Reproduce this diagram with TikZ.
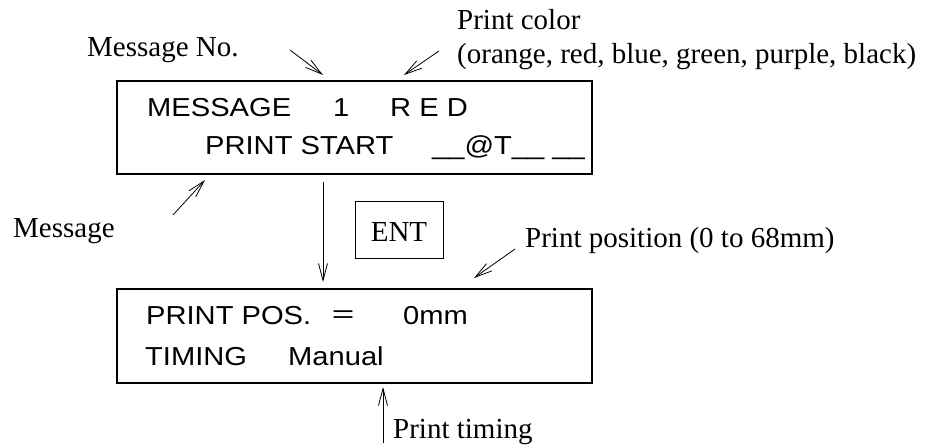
\documentclass[tikz,border=0pt]{standalone}
\usepackage{fontspec}
\setmainfont{Liberation Serif}
\newfontfamily\lcdfont[FakeStretch=1.12]{Liberation Sans}
\newfontfamily\cjkfont{Noto Sans CJK JP}
\usetikzlibrary{arrows.meta}
\tikzset{
  lbl/.style={anchor=base west, inner sep=0pt, font=\fontsize{29}{32}\selectfont},
  lcd/.style={anchor=base west, inner sep=0pt, font=\lcdfont\fontsize{26}{30}\selectfont},
  panel/.style={draw, line width=2.4pt, anchor=north west, inner sep=0pt},
  arr/.style={line width=0.8pt, -{Straight Barb[length=17pt,width=9pt,line width=0.8pt]}},
}
\begin{document}
\begin{tikzpicture}[x=1pt,y=-1pt]
\useasboundingbox (0,0) rectangle (937,446);
% panels
\node[panel, minimum width=475pt, minimum height=93pt] (box1) at (116,80) {};
\node[panel, minimum width=475pt, minimum height=94pt] (box2) at (116,288) {};
% top panel text
\node[lcd] (t1) at (147,117) {MESSAGE};
\node[lcd] (t2) at (333,117) {1};
\node[lcd] (t3) at (390,117) {R E D};
\node[lcd] (t4) at (205,155) {PRINT START};
\node[lcd] (t5) at (432,155) {\_\_@T\_\_ \_\_};
% bottom panel text
\node[lcd] (b1) at (146,325) {PRINT POS.};
\node[lcd, font=\cjkfont\fontsize{26}{30}\selectfont] (b2) at (330,325) {＝};
\node[lcd] (b3) at (403,325) {0mm};
\node[lcd] (b4) at (145,365) {TIMING};
\node[lcd] (b5) at (288,365) {Manual};
% ENT key
\node[draw, line width=1pt, minimum width=88pt, minimum height=57pt, inner sep=0pt] (ent) at (399,230.5) {};
\node[anchor=base, inner sep=0pt, font=\fontsize{29}{32}\selectfont] (entt) at (399,242) {ENT};
% labels
\node[lbl] (lmsgno) at (87,57) {Message No.};
\node[lbl] (lcol1) at (457,30) {Print color};
\node[lbl] (lcol2) at (457,64) {(orange, red, blue, green, purple, black)};
\node[lbl] (lmsg) at (13,238) {Message};
\node[lbl] (lpos) at (525,248) {Print position (0 to 68mm)};
\node[lbl] (ltim) at (393,438) {Print timing};
% arrow end points
\coordinate (mn0) at (290,50);  \coordinate (mn1) at (323,75);
\coordinate (pc0) at (439,51);  \coordinate (pc1) at (404,75);
\coordinate (ms0) at (173,215); \coordinate (ms1) at (205,180);
\coordinate (pp0) at (515,249); \coordinate (pp1) at (474,278);
\coordinate (pt0) at (383,443); \coordinate (pt1) at (383,387);
\coordinate (en0) at (323,182); \coordinate (en1) at (323,282);
\draw[arr] (mn0) -- (mn1);
\draw[arr] (pc0) -- (pc1);
\draw[arr] (ms0) -- (ms1);
\draw[arr] (pp0) -- (pp1);
\draw[arr] (pt0) -- (pt1);
\draw[arr] (en0) -- (en1);
\end{tikzpicture}
\end{document}
